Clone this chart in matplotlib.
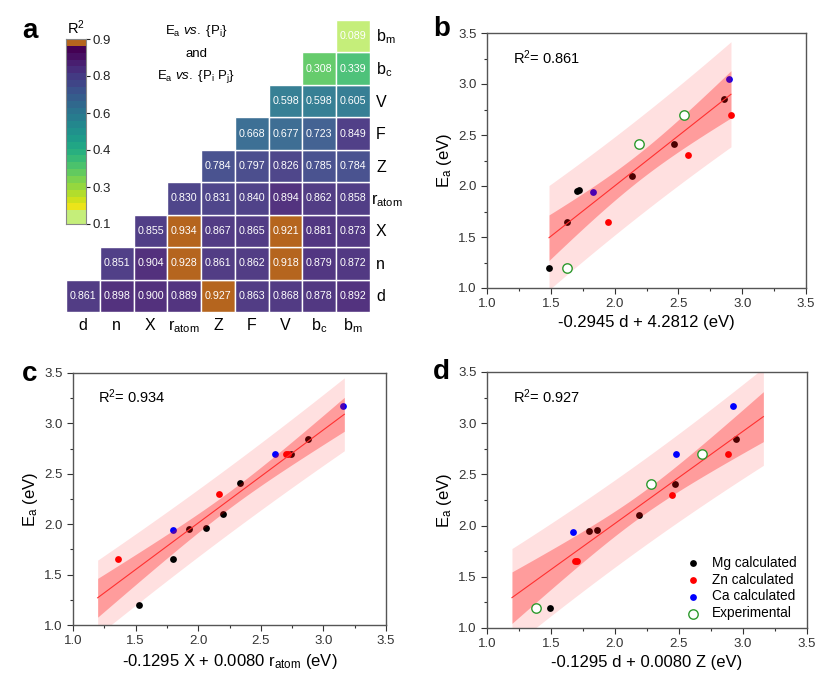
import numpy as np
import matplotlib
matplotlib.use("Agg")
import matplotlib.pyplot as plt
from matplotlib.patches import Rectangle
from matplotlib.ticker import MultipleLocator, FormatStrFormatter

plt.rcParams['font.family'] = ['Liberation Sans', 'DejaVu Sans']
plt.rcParams['mathtext.fontset'] = 'custom'
plt.rcParams['mathtext.rm'] = 'Liberation Sans'
plt.rcParams['mathtext.it'] = 'Liberation Sans:italic'

# ---- panel a: R^2 of Ea vs single / pair descriptors ----
params = ['d', 'n', 'X', 'r_atom', 'Z', 'F', 'V', 'b_c', 'b_m']
param_tex = ['d', 'n', 'X', r'r$_\mathrm{atom}$', 'Z', 'F', 'V', r'b$_\mathrm{c}$', r'b$_\mathrm{m}$']
# row i holds the values for columns i..8
r2_rows = [
    [0.861, 0.898, 0.900, 0.889, 0.927, 0.863, 0.868, 0.878, 0.892],  # d
    [0.851, 0.904, 0.928, 0.861, 0.862, 0.918, 0.879, 0.872],         # n
    [0.855, 0.934, 0.867, 0.865, 0.921, 0.881, 0.873],                # X
    [0.830, 0.831, 0.840, 0.894, 0.862, 0.858],                       # r_atom
    [0.784, 0.797, 0.826, 0.785, 0.784],                              # Z
    [0.668, 0.677, 0.723, 0.849],                                     # F
    [0.598, 0.598, 0.605],                                            # V
    [0.308, 0.339],                                                   # b_c
    [0.089],                                                          # b_m
]
cbar_labels = ['0.1', '0.3', '0.4', '0.6', '0.8', '0.9']

# ---- panels b, c, d: Ea against fitted descriptor expression ----
mg_b_x = [1.486, 1.624, 1.705, 1.720, 2.134, 2.466, 2.857]
mg_b_y = [1.20, 1.65, 1.95, 1.96, 2.10, 2.41, 2.85]
zn_b_x = [1.946, 2.578, 2.915]
zn_b_y = [1.65, 2.30, 2.70]
ca_b_x = [1.828, 2.897]
ca_b_y = [1.94, 3.05]
exp_b_x = [1.630, 2.191, 2.541]
exp_b_y = [1.20, 2.41, 2.70]

mg_c_x = [1.524, 1.796, 1.929, 2.065, 2.198, 2.334, 2.741, 2.874]
mg_c_y = [1.20, 1.65, 1.95, 1.96, 2.10, 2.41, 2.70, 2.85]
zn_c_x = [1.357, 2.169, 2.704, 2.720]
zn_c_y = [1.65, 2.30, 2.70, 2.70]
ca_c_x = [1.801, 2.613, 3.154]
ca_c_y = [1.94, 2.70, 3.17]

mg_d_x = [1.492, 1.799, 1.862, 2.190, 2.466, 2.945]
mg_d_y = [1.20, 1.95, 1.96, 2.10, 2.41, 2.85]
zn_d_x = [1.688, 1.700, 2.445, 2.883]
zn_d_y = [1.65, 1.65, 2.30, 2.70]
ca_d_x = [1.674, 2.474, 2.924]
ca_d_y = [1.94, 2.70, 3.17]
exp_d_x = [1.383, 2.279, 2.680]
exp_d_y = [1.20, 2.41, 2.70]

# fitted lines as drawn (slope, intercept) and their x extent
fit_b = (0.986, 0.028)
fit_c = (0.924, 0.164)
fit_d = (0.900, 0.221)
span_b = (1.486, 2.912)
span_c = (1.197, 3.167)
span_d = (1.195, 3.159)
r2_b, r2_c, r2_d = 0.861, 0.934, 0.927

T95 = {9: 2.262, 10: 2.228, 11: 2.201, 12: 2.179, 13: 2.160, 14: 2.145, 15: 2.131}
ORANGE = '#b5651e'
LIGHT = '#c5ee7a'


def cell_color(v):
    if v > 0.91:
        return ORANGE
    if v < 0.1:
        return LIGHT
    q = np.interp(v, [0.1, 0.3, 0.4, 0.6, 0.8, 0.9], [0.95, 0.76, 0.60, 0.40, 0.20, 0.10])
    c = np.array(plt.cm.viridis(q))
    c[:3] = c[:3] * 0.94 + 0.06  # cells are a touch paler than the raw map
    return tuple(c)


def draw_fit(ax, xs, ys, span, line):
    x = np.asarray(xs, float)
    y = np.asarray(ys, float)
    n = len(x)
    p = np.polyfit(x, y, 1)
    s = np.sqrt(np.sum((y - np.polyval(p, x)) ** 2) / (n - 2))
    xm = x.mean()
    sxx = np.sum((x - xm) ** 2)
    t = T95[n - 2]
    xx = np.linspace(span[0], span[1], 120)
    yy = line[0] * xx + line[1]
    ci = t * s * np.sqrt(1.0 / n + (xx - xm) ** 2 / sxx)
    pi = t * s * np.sqrt(1.0 + 1.0 / n + (xx - xm) ** 2 / sxx)
    ax.fill_between(xx, yy - pi, yy + pi, color='#ffe0e0', lw=0, zorder=1)
    ax.fill_between(xx, yy - ci, yy + ci, color='red', alpha=0.3, lw=0, zorder=3)
    ax.plot(xx, yy, color='#ff3030', lw=0.8, zorder=4)


def style_scatter(ax, xlabel, r2):
    ax.set_xlim(1.0, 3.5)
    ax.set_ylim(1.0, 3.5)
    ax.xaxis.set_major_locator(MultipleLocator(0.5))
    ax.yaxis.set_major_locator(MultipleLocator(0.5))
    ax.xaxis.set_minor_locator(MultipleLocator(0.25))
    ax.yaxis.set_minor_locator(MultipleLocator(0.25))
    ax.xaxis.set_major_formatter(FormatStrFormatter('%.1f'))
    ax.yaxis.set_major_formatter(FormatStrFormatter('%.1f'))
    ax.tick_params(which='both', direction='out', labelsize=9.5, colors='#333333', width=0.8)
    ax.tick_params(which='major', length=4)
    ax.tick_params(which='minor', length=2.5)
    for sp in ax.spines.values():
        sp.set_color('#555555')
        sp.set_linewidth(1.0)
    ax.set_xlabel(xlabel, fontsize=12, labelpad=3)
    ax.set_ylabel(r'E$_\mathrm{a}$ (eV)', fontsize=12, labelpad=3)
    ax.text(1.2, 3.26, 'R$^2$= %.3f' % r2, fontsize=10.5, ha='left', va='center')


def scatter_groups(ax, mg, zn, ca, exp=None):
    h = []
    h.append(ax.scatter(*mg, s=24, color='black', lw=0, zorder=2, label='Mg calculated'))
    h.append(ax.scatter(*zn, s=24, color='red', lw=0, zorder=2, label='Zn calculated'))
    h.append(ax.scatter(*ca, s=24, color='blue', lw=0, zorder=2, label='Ca calculated'))
    if exp is not None:
        h.append(ax.scatter(*exp, s=46, facecolor='white', edgecolor='#2e9a2e', lw=1.0,
                            zorder=5, label='Experimental'))
    return h


fig = plt.figure(figsize=(8.16, 6.78), dpi=100)

# ---------- panel a ----------
axh = fig.add_axes([66 / 816, 1 - 312 / 678, 304 / 816, 292 / 678])
axh.set_xlim(0, 9)
axh.set_ylim(0, 9)
axh.axis('off')
for i, row in enumerate(r2_rows):
    for k, v in enumerate(row):
        j = i + k
        axh.add_patch(Rectangle((j, i), 1, 1, facecolor=cell_color(v), edgecolor='white', lw=1.0))
        axh.text(j + 0.5, i + 0.5, '%.3f' % v, color='white', fontsize=7.7,
                 ha='center', va='center')
for j, lab in enumerate(param_tex):
    axh.text(j + 0.5, -0.56, lab, fontsize=11.5, ha='center', va='baseline')
    xr = 9.04 if params[j] == 'r_atom' else 9.18
    axh.text(xr, j + 0.33, lab, fontsize=11.5, ha='left', va='baseline')

axh.text(3.85, 8.66, r'E$_\mathrm{a}$ $\mathit{vs.}$ {P$_\mathrm{i}$}', fontsize=9.5, ha='center', va='center')
axh.text(3.85, 7.95, 'and', fontsize=9.5, ha='center', va='center')
axh.text(3.85, 7.27, r'E$_\mathrm{a}$ $\mathit{vs.}$ {P$_\mathrm{i}$ P$_\mathrm{j}$}', fontsize=9.5,
         ha='center', va='center')

cax = fig.add_axes([66 / 816, 1 - 224 / 678, 20 / 816, 185 / 678])
band_colors = [LIGHT, LIGHT] + [plt.cm.viridis(q) for q in np.linspace(0.97, 0.0, 24)] + [ORANGE]
nb = len(band_colors)
img = np.array([matplotlib.colors.to_rgba(c) for c in band_colors]).reshape(nb, 1, 4)
cax.imshow(img, aspect='auto', origin='lower', extent=(0, 1, 0, 1), interpolation='nearest')
cax.set_xlim(0, 1)
cax.set_ylim(0, 1)
cax.set_xticks([])
cax.yaxis.tick_right()
cax.set_yticks(np.linspace(0, 1, len(cbar_labels)))
cax.set_yticklabels(cbar_labels)
cax.tick_params(axis='y', length=3, width=0.8, labelsize=9.5, pad=2, colors='#222222')
for sp in cax.spines.values():
    sp.set_color('#888888')
    sp.set_linewidth(0.8)
fig.text(76 / 816, 1 - 28 / 678, 'R$^2$', fontsize=10.5, ha='center', va='center')

# ---------- panel b ----------
axb = fig.add_axes([487 / 816, 1 - 288 / 678, 319 / 816, 255 / 678])
draw_fit(axb, mg_b_x + zn_b_x + ca_b_x, mg_b_y + zn_b_y + ca_b_y, span_b, fit_b)
scatter_groups(axb, (mg_b_x, mg_b_y), (zn_b_x, zn_b_y), (ca_b_x, ca_b_y), (exp_b_x, exp_b_y))
style_scatter(axb, '-0.2945 d + 4.2812 (eV)', r2_b)

# ---------- panel c ----------
axc = fig.add_axes([73 / 816, 1 - 625 / 678, 313 / 816, 252 / 678])
draw_fit(axc, mg_c_x + zn_c_x + ca_c_x, mg_c_y + zn_c_y + ca_c_y, span_c, fit_c)
scatter_groups(axc, (mg_c_x, mg_c_y), (zn_c_x, zn_c_y), (ca_c_x, ca_c_y))
style_scatter(axc, r'-0.1295 X + 0.0080 r$_\mathrm{atom}$ (eV)', r2_c)

# ---------- panel d ----------
axd = fig.add_axes([487 / 816, 1 - 628 / 678, 320 / 816, 256 / 678])
draw_fit(axd, mg_d_x + zn_d_x + ca_d_x, mg_d_y + zn_d_y + ca_d_y, span_d, fit_d)
handles = scatter_groups(axd, (mg_d_x, mg_d_y), (zn_d_x, zn_d_y), (ca_d_x, ca_d_y), (exp_d_x, exp_d_y))
style_scatter(axd, '-0.1295 d + 0.0080 Z (eV)', r2_d)
axd.legend(handles=handles, loc='lower right', bbox_to_anchor=(0.975, 0.02), frameon=False,
           fontsize=9.8, handletextpad=0.4, labelspacing=0.2, borderaxespad=0, borderpad=0.2)

# panel letters
for lab, x, y in [('a', 30, 31), ('b', 442, 29), ('c', 30, 374), ('d', 441, 372)]:
    fig.text(x / 816, 1 - y / 678, lab, fontsize=20, fontweight='bold', ha='center', va='center')

fig.savefig('out.png', dpi=100)
